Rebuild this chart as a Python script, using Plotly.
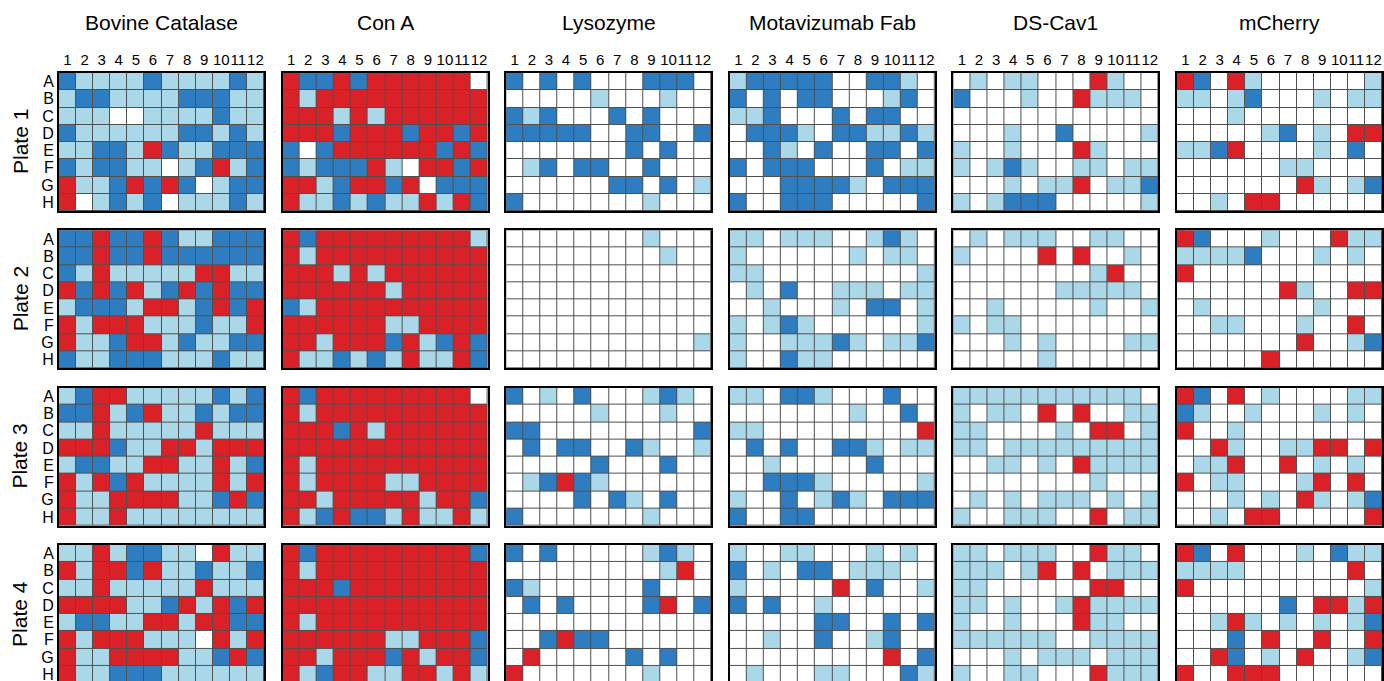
import plotly.graph_objects as go

proteins = ["Bovine Catalase", "Con A", "Lysozyme", "Motavizumab Fab", "DS-Cav1", "mCherry"]
plates = ["Plate 1", "Plate 2", "Plate 3", "Plate 4"]
row_labels = list("ABCDEFGH")
col_labels = [str(i) for i in range(1, 13)]
# cell levels: W = white, L = light blue, B = blue, R = red
level_codes = ["W", "L", "B", "R"]
level_colors = ["#ffffff", "#abd8e9", "#2e7dc0", "#da2128"]

# ---------------- Plate 1 ----------------
bovine_p1 = ["BLLLLBLLLLBL", "LBBLLLLBBBLL", "LLLWWLLLLBLL", "BLLLLLLBBLBL",
             "LLBBLRBLLBBB", "BLBBLLWLBRLB", "RLLBRBRBWLBB", "RWLBLBWLLLBL"]
cona_p1 = ["RBBRBRRRRRRW", "RLRRRRRRRRRR", "RRRLRLRRRRRR", "RRRBRRRBRRBR",
           "BWBRRRRRRBRB", "BLBBBRLWRRBR", "RRLBRRBRWBBB", "RLLBLBLLRLRB"]
lyso_p1 = ["BWBWBWWWBBBW", "WWWWWLWWWLWW", "BLBWWWBWBWWW", "BBBBBWWBBWWB",
           "WWWWWWWBWBWW", "WLBWBBWWBWWW", "WWWWWWBBWBWL", "BWWWWWWWLWWW"]
mota_p1 = ["LBBBBBWWBBLW", "BWBWBBWWWLBW", "LLBWWWBWBBWW", "WBBBLWBBLLBL",
           "WWBLWBWWBBWB", "BWBBBWWWBWLL", "WWWBBBBLWBBB", "BWWBBBWWWWWB"]
dscav_p1 = ["WLWLLWWWRLWW", "BWWWLWWRLLLW", "WWWWWWWWWWWW", "WWWLWWBWWWWL",
            "LWWLWWWRLWWW", "LWLBLWWLLWLL", "WWWLWLLRWLLB", "LWLBBBWWWWWL"]
mcherry_p1 = ["RBWRLWWWWWWL", "LLWLBWWWLWLL", "WWWLWWWWWWWW", "WWWWWLBWLWRR",
              "LLBRWWWWLWBW", "WWWWWWLLWWWW", "WWWWWWWRLWLB", "WWLWRRWWWWWW"]

# ---------------- Plate 2 ----------------
bovine_p2 = ["BBRBBRBLLBBB", "BBRBBRBBBBBB", "BLRLLLLLRRLL", "RBRBRLBRBRBB",
             "LBBBLRRLBRBR", "RLRRRLLLBLLR", "RLLBRRLBLLBB", "BLLBBBLLLBLL"]
cona_p2 = ["RBRRRRRRRRRL", "RLRRRRRRRRRR", "RRRLRLRRRRRR", "RRRRRRLRRRRR",
           "BLRRRRRRRRRR", "RRRRRRLLRRRR", "RRLRRRBRLBRB", "RLLBLBLRLLRB"]
lyso_p2 = ["WWWWWWWWLWWW", "WWWWWWWWWLWW", "WWWWWWWWWWWW", "WWWWWWWWWWWW",
           "WWWWWWWWWWWW", "WWWWWWWWWWWW", "WWWWWWWWWWWL", "WWWWWWWWWWWW"]
mota_p2 = ["LLWLLLWWLBLW", "LWWWWWWLWLLW", "LLWWWWWWWWWL", "WLWBWWLLLWLL",
           "WWLWWWLWBBWL", "LWLBLWWWWWWL", "LWWLLLBLWLLB", "LWWBLLWWWWWW"]
dscav_p2 = ["WLWLLLWWLLWW", "LWWWWRWRWWLW", "WWWWWWWWLRWW", "WWWWWWLLLLLW",
            "WWLWWWWWLWWL", "LWLLWWWWWWWW", "WWWLWLWWWWLL", "WWWWWLWWWWWW"]
mcherry_p2 = ["RBWWWLWWWRLL", "LLLLBWWWLWLW", "RWWWWWWWWWWW", "WWWWWWRLWWRR",
              "WLWWWWWWLWWW", "WWLLWWWLWWRW", "WWWWWWWRWWLB", "WWWWWRWWWWWW"]

# ---------------- Plate 3 ----------------
bovine_p3 = ["LBRRLLLLLBLB", "BBRLBRLLBLBB", "LLRLLLLLRLLL", "RRRBLLRRLRRR",
             "LBBLLRRLLRLB", "RLRBRLLLLRLR", "RLLRRRRLLBRB", "RLLRLLLLLLLL"]
cona_p3 = ["RBRRRRRRRRRW", "RLRRRRRRRRRR", "RRRBRLRRRRRR", "RRRRRRRRRRRR",
           "RLRRRRRRRRRR", "RLRRRRLLRRRR", "RRLRRRRRLRRB", "RLBRBBLRLLRL"]
lyso_p3 = ["BWLWBWWWLBLW", "WWWWWLWWWLWW", "BBWWWWWWWWWB", "WBWBBWWBLWWL",
           "WWWWWBWWWBWW", "WLBRBLWWWWWW", "WWWWBWBLWBWW", "BWWWWWWWLWWW"]
mota_p3 = ["LLWBBLWWWBWW", "WWWWWWWLWWBW", "LLWWWWWWWWWR", "WBWBWWBBLWLL",
           "WWLWWWWWBWWW", "WWBBBLWWWWWL", "LWWBWLBLWBBB", "BWWBBWWWWWWW"]
dscav_p3 = ["LLLLLLLLLLLW", "LWLLWRWRWWLL", "LLWWWWLWRRWL", "LLWLLLLLLLLL",
            "WWLLWLWRLLLL", "WWWWWWWWLWWW", "WLWLWLLLWLWL", "LWWLLLWWRWLL"]
mcherry_p3 = ["RBWRWLWWWWLL", "BLWWLWWWLWLW", "RWWLWWWWWWWW", "WWRLWWLLRRWR",
              "WLLRWWRWLWLW", "RWLLWWWLRWRW", "WWWLWLWRLWLB", "WWLWRRWWWWWR"]

# ---------------- Plate 4 ----------------
bovine_p4 = ["LLRLBBLLWRLL", "RLRRBRLLBLLB", "LLRLLLLLRLLL", "RRRRLLBRLRBR",
             "LBBLLRRLRRBB", "RLRRRLLLWRLR", "RLLRRRRLLBRB", "RLLBBBLLLLLL"]
cona_p4 = ["RBRRRRRRRRRB", "RLRRRRRRRRRR", "RRRBRRRRRRRR", "RRRRRRRRRRRR",
           "RLRRRRRRRRRR", "RRRRRRLLRRRB", "RRLRRRBRLRRB", "RLBRRLLRRLRL"]
lyso_p4 = ["BWBWWWWWLBLW", "WWWWWWWWWLRW", "BLWWWWWWBWWW", "WBWBWWWWBRWB",
           "WWWWWWWWWWWW", "WWBRBBWWWWWW", "WRWWWWWBWBWW", "RWWWWWWWLWWW"]
mota_p4 = ["LWWLLWWWLWLW", "BWLWBBWLLLWW", "LWWWWWRWBWWL", "BWBWWLWWWWWW",
           "WWWWWBBWWBWB", "WWLWWBWWLBWW", "WWWWWWWWWRWB", "WLWWWLLWWWBL"]
dscav_p4 = ["LLWLLLWWRLLW", "LLLWLRWRWLLL", "LLWWWWWWRRWW", "LLWLWWLRLLLL",
            "LWWLWWWRLLWW", "LLLLLLWWLLLL", "WWWLWLLLWLLL", "LWWLLWWWRLLL"]
mcherry_p4 = ["RBWRWWWLWBLL", "LLLLWWWWWWRW", "RWWWWWWWWWWL", "WWWWWWBWRRLR",
              "WWLRLWLWLWLB", "WWWBWRWWRWWR", "WWRBWLWRWWLB", "RWWRRRWWWWWW"]

panels = {
    "Bovine Catalase": [bovine_p1, bovine_p2, bovine_p3, bovine_p4],
    "Con A": [cona_p1, cona_p2, cona_p3, cona_p4],
    "Lysozyme": [lyso_p1, lyso_p2, lyso_p3, lyso_p4],
    "Motavizumab Fab": [mota_p1, mota_p2, mota_p3, mota_p4],
    "DS-Cav1": [dscav_p1, dscav_p2, dscav_p3, dscav_p4],
    "mCherry": [mcherry_p1, mcherry_p2, mcherry_p3, mcherry_p4],
}

W, H = 1384, 681
left0, xstep, pw = 59, 223.6, 205
top0, ystep, ph = 73, 157.3, 138
FONT = "Arial, Liberation Sans, sans-serif"

nlev = len(level_codes)
colorscale = []
for i, c in enumerate(level_colors):
    colorscale.append([i / nlev, c])
    colorscale.append([(i + 1) / nlev, c])

fig = go.Figure()
layout = {}
annotations = []
n = 0
for pi, plate in enumerate(plates):
    for ci, prot in enumerate(proteins):
        n += 1
        rows = panels[prot][pi]
        z = [[level_codes.index(ch) for ch in r] for r in rows]
        x0 = left0 + ci * xstep
        x1 = x0 + pw
        t = top0 + pi * ystep
        b = t + ph
        ybot = len(row_labels) - 0.5
        if b > H:
            ybot = -0.5 + len(row_labels) * (H - t) / ph
            b = H
        sx = "" if n == 1 else str(n)
        fig.add_trace(go.Heatmap(
            z=z, x=list(range(len(col_labels))), y=list(range(len(row_labels))),
            zmin=-0.5, zmax=nlev - 0.5, colorscale=colorscale, showscale=False,
            xgap=1, ygap=1, xaxis="x" + sx, yaxis="y" + sx,
            hovertemplate=prot + " " + plate + "<extra></extra>",
        ))
        layout["xaxis" + sx] = dict(
            domain=[x0 / W, x1 / W], range=[-0.5, len(col_labels) - 0.5],
            anchor="y" + sx, side="top", showgrid=False, zeroline=False,
            showline=True, mirror=True, linecolor="black", linewidth=2,
            tickmode="array", tickvals=list(range(len(col_labels))), ticktext=col_labels,
            showticklabels=(pi == 0), ticks="", tickangle=0, automargin=False,
            ticklabeloverflow="allow",
            tickfont=dict(size=15, color="black", family=FONT),
            fixedrange=True,
        )
        layout["yaxis" + sx] = dict(
            domain=[1 - b / H, 1 - t / H], range=[ybot, -0.5],
            anchor="x" + sx, showgrid=False, zeroline=False,
            showline=True, mirror=True, linecolor="black", linewidth=2,
            tickmode="array", tickvals=list(range(len(row_labels))), ticktext=row_labels,
            showticklabels=(ci == 0), ticks="", tickangle=0, automargin=False,
            ticklabeloverflow="allow",
            tickfont=dict(size=16, color="black", family=FONT),
            fixedrange=True,
        )
        if pi == 0:
            annotations.append(dict(
                text=prot, x=(x0 + pw / 2) / W, y=1 - 22 / H, xref="paper", yref="paper",
                xanchor="center", yanchor="middle", showarrow=False,
                font=dict(size=21, color="black", family=FONT),
            ))
    tp = top0 + pi * ystep
    annotations.append(dict(
        text=plate, x=20 / W, y=1 - (tp + ph / 2) / H, xref="paper", yref="paper",
        xanchor="center", yanchor="middle", showarrow=False, textangle=-90,
        font=dict(size=21, color="black", family=FONT),
    ))

fig.update_layout(
    width=W, height=H, margin=dict(l=0, r=0, t=0, b=0, autoexpand=False),
    paper_bgcolor="white", plot_bgcolor="#505050",
    annotations=annotations, showlegend=False, **layout,
)
fig.write_html(
    "out.html",
    config={"displayModeBar": False},
    post_script="document.body.style.margin='0';document.body.style.overflow='hidden';",
)
